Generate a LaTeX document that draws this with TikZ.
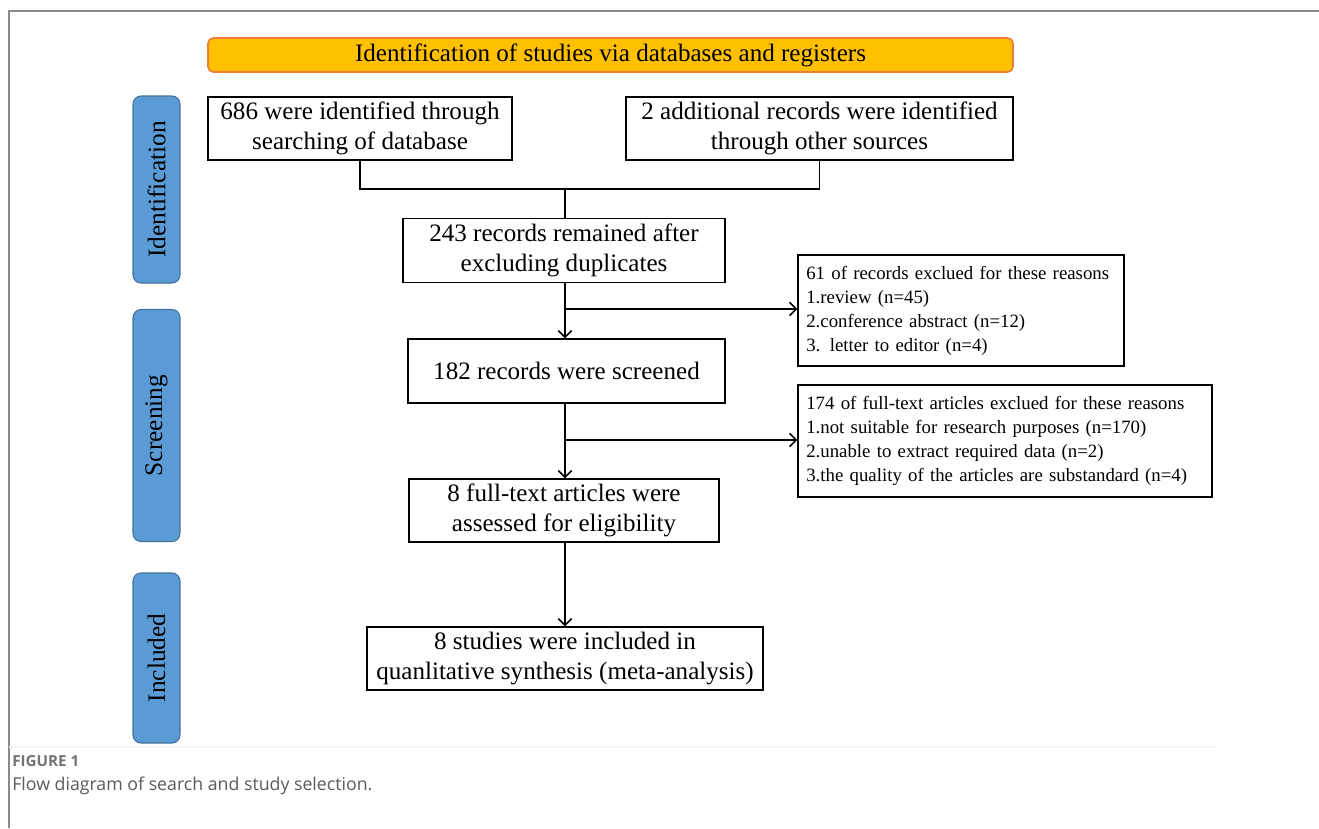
\documentclass[tikz,border=0pt]{standalone}
\usepackage{fontspec}
\setmainfont{Liberation Serif}
\newfontfamily\capfont{Open Sans}
\usetikzlibrary{arrows.meta}
\definecolor{titlefill}{HTML}{FFC000}
\definecolor{titledraw}{HTML}{ED7D31}
\definecolor{barfill}{HTML}{5B9BD5}
\definecolor{bardraw}{HTML}{41719C}
\definecolor{framegray}{HTML}{8A8A8A}
\definecolor{capgray}{HTML}{5A5A5A}
\tikzset{
  mainbox/.style={draw, line width=1.1pt, fill=white, align=center, inner sep=0pt,
    font=\fontsize{18.8}{22.5}\selectfont},
  exbox/.style={draw, line width=1.1pt, fill=white, align=left, inner sep=0pt,
    font=\fontsize{14.1}{18}\selectfont},
  sidebar/.style={draw=bardraw, line width=0.8pt, fill=barfill, rounded corners=6pt,
    inner sep=0pt, font=\fontsize{19}{20}\selectfont},
  titlebox/.style={draw=titledraw, line width=1.2pt, fill=titlefill, rounded corners=4pt,
    inner sep=0pt, font=\fontsize{18.8}{20}\selectfont},
  link/.style={line width=1.1pt},
  arrowlink/.style={line width=1.1pt, -{Straight Barb[length=5pt,width=10pt,line width=1.1pt]}},
}
\begin{document}
\begin{tikzpicture}[x=0.75pt,y=-0.75pt]
\useasboundingbox (0,0) rectangle (1319,828);
% frame
\draw[framegray, line width=1.5pt] (9,828) -- (9,11) -- (1319,11);
\draw[gray!8, line width=0.8pt] (9,747) -- (1216,747);
% title
\node[titlebox, minimum width=603.75pt, minimum height=25.5pt] (title) at (610.5,55)
  {Identification of studies via databases and registers};
% side bars
\node[sidebar, minimum width=35.25pt, minimum height=140.25pt] (sid) at (156.5,189.5)
  {\rotatebox{90}{Identification}};
\node[sidebar, minimum width=35.25pt, minimum height=174pt] (sscr) at (156.5,425.5)
  {\rotatebox{90}{Screening}};
\node[sidebar, minimum width=35.25pt, minimum height=127.5pt] (sinc) at (156.5,658)
  {\rotatebox{90}{Included}};
% main boxes
\node[mainbox, minimum width=228pt, minimum height=47.25pt] (b686) at (360,128.5)
  {686 were identified through\\searching of database};
\node[mainbox, minimum width=290.25pt, minimum height=47.25pt] (badd) at (819.5,128.5)
  {2 additional records were identified\\through other sources};
\node[mainbox, minimum width=241.5pt, minimum height=48pt] (b243) at (564,250.5)
  {243 records remained after\\excluding duplicates};
\node[mainbox, minimum width=237.75pt, minimum height=48pt] (b182) at (566.5,371)
  {182 records were screened};
\node[mainbox, minimum width=232.5pt, minimum height=47.25pt] (b8f) at (564,510.5)
  {8 full-text articles were\\assessed for eligibility};
\node[mainbox, minimum width=297pt, minimum height=47.25pt] (b8s) at (565,658.5)
  {8 studies were included in\\quanlitative synthesis (meta-analysis)};
% exclusion boxes
\node[exbox, minimum width=244.5pt, minimum height=83.25pt, text width=232pt] (ex1) at (961,310.5)
  {61 of records exclued for these reasons\\1.review (n=45)\\2.conference abstract (n=12)\\3. letter to editor (n=4)};
\node[exbox, minimum width=310.5pt, minimum height=84pt, text width=298pt] (ex2) at (1005,441)
  {174 of full-text articles exclued for these reasons\\1.not suitable for research purposes (n=170)\\2.unable to extract required data (n=2)\\3.the quality of the articles are substandard (n=4)};
% connectors
\coordinate (j1) at (565,189);
\coordinate (j2) at (565,309);
\coordinate (j3) at (565,440);
\draw[link] (b686.south) -- (b686.south |- j1) -- (badd.south |- j1) -- (badd.south);
\draw[link] (j1) -- (j1 |- b243.north);
\draw[arrowlink] (j1 |- b243.south) -- (j1 |- b182.north);
\draw[arrowlink] (j2) -- (j2 -| ex1.west);
\draw[arrowlink] (j1 |- b182.south) -- (j1 |- b8f.north);
\draw[arrowlink] (j3) -- (j3 -| ex2.west);
\draw[arrowlink] (j1 |- b8f.south) -- (j1 |- b8s.north);
% caption
\node[anchor=base west, inner sep=0pt, text=capgray!85, font=\capfont\bfseries\fontsize{11.4}{13}\selectfont] (figlbl) at (12,766) {FIGURE 1};
\node[anchor=base west, inner sep=0pt, text=capgray, font=\capfont\fontsize{13.3}{16}\selectfont] (figcap) at (12,790) {Flow diagram of search and study selection.};
\end{tikzpicture}
\end{document}
